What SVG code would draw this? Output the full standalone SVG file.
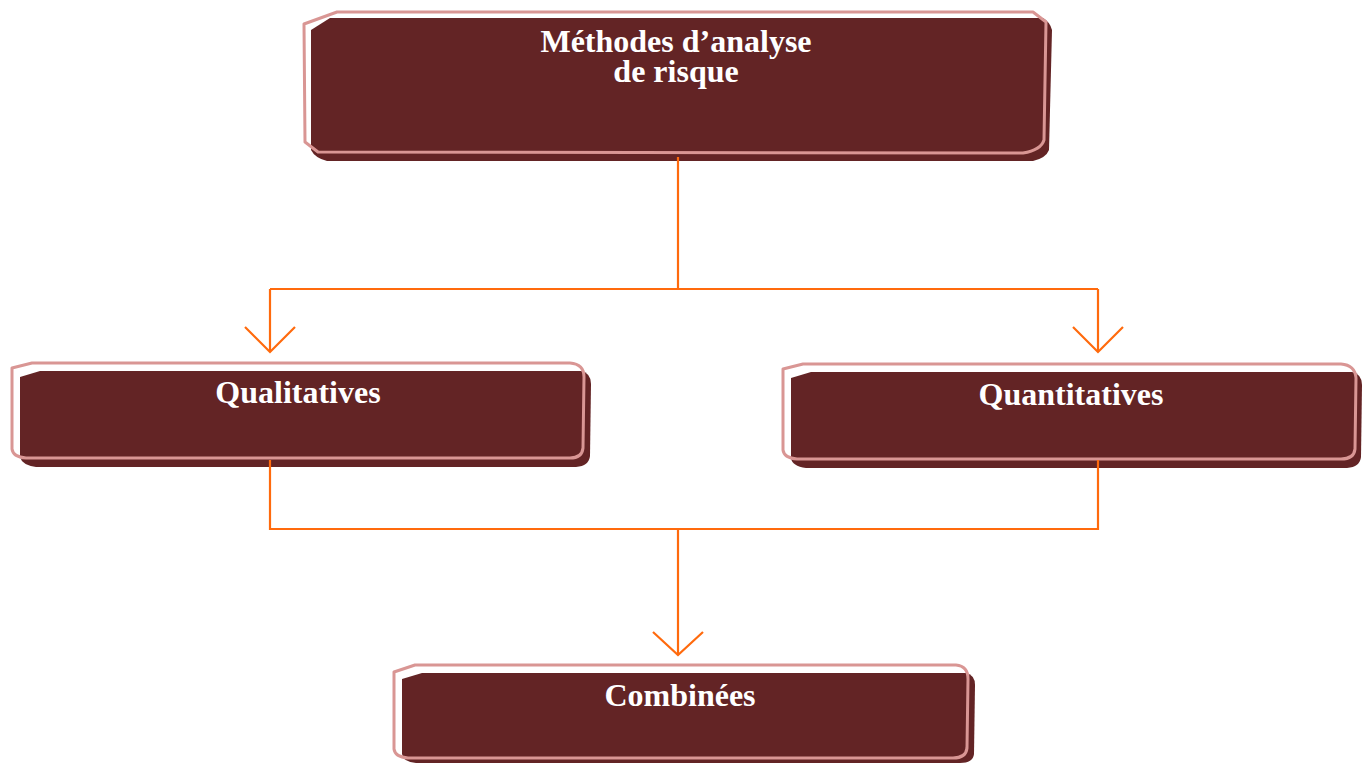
<svg xmlns="http://www.w3.org/2000/svg" width="1362" height="764" viewBox="0 0 1362 764">
<style>
.fill{fill:#632425;}
.outline{fill:none;stroke:#d99694;stroke-width:3;stroke-linejoin:round;}
.label{font-family:"Liberation Serif","Times New Roman",serif;font-weight:bold;fill:#ffffff;text-anchor:middle;font-size:32px;}
.conn{fill:none;stroke:#ff6a0d;stroke-width:2.2;}
</style>
<rect width="1362" height="764" fill="#ffffff"/>
<g id="node-methodes">
<path class="fill" d="M311,30 L330,18 L1043,18 Q1050,22 1052,30 L1049,150 Q1046,158 1033,161 L327,161 Q315,158 311,150 Z"/>
<path class="outline" d="M304,24 L337,12 L1033,12 L1046,22 L1044,140 Q1041,150 1023,153 L318,152 L305,142 Z"/>
<text class="label" x="676" y="52">Méthodes d’analyse</text>
<text class="label" x="676" y="82">de risque</text>
</g>
<g id="node-qualitatives">
<path class="fill" d="M20,377 L40,371 L581,371 Q591,373 591,384 L590,456 Q589,466 576,467 L36,467 Q22,465 20,457 Z"/>
<path class="outline" d="M12,368 L32,363 L570,363 Q584,364 584,377 L583,448 Q582,458 570,458 L26,458 Q13,457 12,449 Z"/>
<text class="label" x="298" y="403">Qualitatives</text>
</g>
<g id="node-quantitatives">
<path class="fill" d="M791,378 L811,372 L1352,372 Q1362,374 1362,385 L1361,457 Q1360,467 1347,468 L806,468 Q792,466 791,458 Z"/>
<path class="outline" d="M783,369 L803,364 L1341,364 Q1355,365 1356,378 L1355,449 Q1354,459 1341,459 L797,459 Q784,458 783,450 Z"/>
<text class="label" x="1071" y="405">Quantitatives</text>
</g>
<g id="node-combinees">
<path class="fill" d="M402,679 L422,673 L966,673 Q975,675 975,685 L974,754 Q973,763 960,763 L416,763 Q403,762 402,754 Z"/>
<path class="outline" d="M394,672 L415,665 L956,665 Q968,666 968,679 L967,748 Q966,758 953,758 L408,758 Q395,757 394,749 Z"/>
<text class="label" x="680" y="706">Combinées</text>
</g>
<g id="connectors">
<path class="conn" d="M678,157 L678,289 M270,289 L1098,289 M270,289 L270,352 M1098,289 L1098,352"/>
<path class="conn" d="M245,327 L270,352 L295,327 M1073,327 L1098,352 L1123,327"/>
<path class="conn" d="M270,460 L270,529 L1098,529 L1098,460 M678,529 L678,655"/>
<path class="conn" d="M653,632 L678,655 L703,632"/>
</g>
</svg>
